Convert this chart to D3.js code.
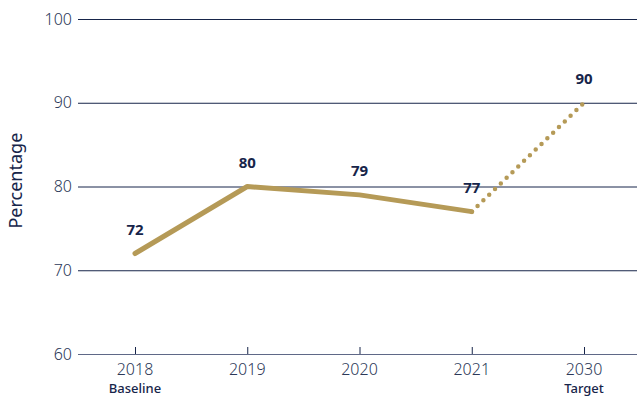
<!DOCTYPE html>
<html>
<head>
<meta charset="utf-8">
<script src="https://cdn.jsdelivr.net/npm/d3@7"></script>
<style>
  html, body { margin: 0; padding: 0; background: #ffffff; }
  svg { display: block; }
</style>
</head>
<body>
<svg id="chart" width="637" height="397"></svg>
<script>
// Years on the x axis, with optional sub-labels underneath
const years = ["2018", "2019", "2020", "2021", "2030"];
const subLabels = ["Baseline", "", "", "", "Target"];
// Observed percentages (solid line) and the projection to the target (dotted)
const actualValues = [72, 80, 79, 77, null];
const targetValues = [null, null, null, 77, 90];
const pointLabels = [72, 80, 79, 77, 90];
const yTicks = [60, 70, 80, 90, 100];

const W = 637, H = 397;
const margin = { left: 78, right: 0, top: 19, bottom: 43 };
const navy = "#17254a";
const tickColor = "#2c3858";
const gold = "#b59a57";
const font = "'Noto Sans', 'Open Sans', sans-serif";

const svg = d3.select("#chart");

const x = d3.scalePoint().domain(years)
  .range([135, 584]);
const y = d3.scaleLinear().domain([60, 100])
  .range([H - margin.bottom, margin.top]);

// Horizontal gridlines
svg.append("g").selectAll("line")
  .data(yTicks)
  .join("line")
  .attr("x1", margin.left).attr("x2", W)
  .attr("y1", d => y(d) + 0.5).attr("y2", d => y(d) + 0.5)
  .attr("stroke", d => d === 60 ? "#5f6887" : navy)
  .attr("stroke-width", 1);

// Y tick labels
svg.append("g").selectAll("text")
  .data(yTicks)
  .join("text")
  .attr("x", 72).attr("y", d => y(d))
  .attr("dy", "0.35em")
  .attr("text-anchor", "end")
  .attr("font-family", font)
  .attr("font-size", 16)
  .attr("font-weight", 300)
  .attr("fill", tickColor)
  .text(d => d);

// X axis ticks pointing up from the baseline
svg.append("g").selectAll("line")
  .data(years)
  .join("line")
  .attr("x1", d => x(d) + 0.5).attr("x2", d => x(d) + 0.5)
  .attr("y1", y(60)).attr("y2", y(60) - 7)
  .attr("stroke", navy).attr("stroke-width", 1);

// X tick labels
svg.append("g").selectAll("text")
  .data(years)
  .join("text")
  .attr("x", d => x(d)).attr("y", y(60) + 21)
  .attr("text-anchor", "middle")
  .attr("font-family", font)
  .attr("font-size", 16)
  .attr("font-weight", 300)
  .attr("fill", tickColor)
  .text(d => d);

svg.append("g").selectAll("text")
  .data(years.map((d, i) => ({ year: d, sub: subLabels[i] })).filter(d => d.sub))
  .join("text")
  .attr("x", d => x(d.year)).attr("y", y(60) + 39)
  .attr("text-anchor", "middle")
  .attr("font-family", font)
  .attr("font-size", 13)
  .attr("font-weight", 500)
  .attr("fill", navy)
  .text(d => d.sub);

// Y axis title
svg.append("text")
  .attr("transform", `translate(22, ${y(80.7)}) rotate(-90)`)
  .attr("text-anchor", "middle")
  .attr("font-family", font)
  .attr("font-size", 18)
  .attr("fill", navy)
  .text("Percentage");

// Solid line for observed values
const line = d3.line()
  .defined(d => d.v !== null)
  .x(d => x(d.year))
  .y(d => y(d.v));

svg.append("path")
  .datum(years.map((d, i) => ({ year: d, v: actualValues[i] })))
  .attr("d", line)
  .attr("fill", "none")
  .attr("stroke", gold)
  .attr("stroke-width", 5)
  .attr("stroke-linejoin", "round")
  .attr("stroke-linecap", "round");

// Dotted projection to target
svg.append("path")
  .datum(years.map((d, i) => ({ year: d, v: targetValues[i] })))
  .attr("d", line)
  .attr("fill", "none")
  .attr("stroke", gold)
  .attr("stroke-width", 4.5)
  .attr("stroke-linecap", "round")
  .attr("stroke-dasharray", "0 8.1");

// Value labels
svg.append("g").selectAll("text")
  .data(years.map((d, i) => ({ year: d, v: pointLabels[i] })))
  .join("text")
  .attr("x", d => x(d.year)).attr("y", d => y(d.v) - 19)
  .attr("text-anchor", "middle")
  .attr("font-family", font)
  .attr("font-size", 15)
  .attr("font-weight", 700)
  .attr("fill", navy)
  .text(d => d.v);
</script>
</body>
</html>
